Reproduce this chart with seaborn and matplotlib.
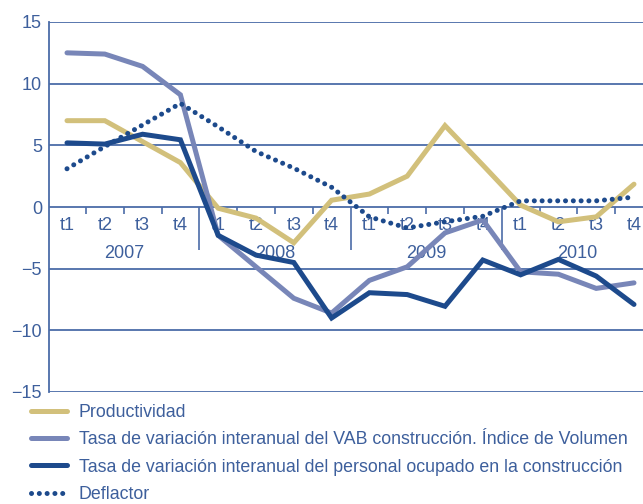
import numpy as np
import pandas as pd
import seaborn as sns
import matplotlib
matplotlib.use("Agg")
import matplotlib.pyplot as plt
from matplotlib.lines import Line2D

# ---- data ----
quarters = ["t1", "t2", "t3", "t4"]
years = ["2007", "2008", "2009", "2010"]
productividad = [7.0, 7.0, 5.3, 3.6, -0.1, -0.9, -2.9, 0.55, 1.05, 2.5, 6.6, 3.4, 0.15, -1.2, -0.8, 1.85]
vab = [12.5, 12.4, 11.4, 9.1, -2.3, -4.85, -7.4, -8.6, -5.95, -4.85, -2.1, -1.05, -5.25, -5.45, -6.6, -6.15]
personal = [5.2, 5.1, 5.9, 5.45, -2.3, -3.9, -4.5, -9.0, -6.95, -7.1, -8.05, -4.3, -5.5, -4.25, -5.6, -7.9]
deflactor = [3.1, 4.9, 6.65, 8.4, 6.5, 4.5, 3.15, 1.6, -0.8, -1.7, -1.2, -0.75, 0.5, 0.5, 0.5, 0.8]
labels = ["Productividad",
          "Tasa de variación interanual del VAB construcción. Índice de Volumen",
          "Tasa de variación interanual del personal ocupado en la construcción",
          "Deflactor"]

c_tan = "#D2C07B"
c_lav = "#7886B8"
c_navy = "#1D4A8C"
c_text = "#3D5F9C"
c_grid = "#4B6CA8"

sns.set_theme(style="white")
plt.rcParams["font.family"] = ["Liberation Sans", "DejaVu Sans"]

fig = plt.figure(figsize=(6.43, 5.04), dpi=100)
ax = fig.add_axes([49/643, 1-392/504, 1-49/643, 370/504])

x = np.arange(len(productividad))
lw = 3.6
dot_style = (0, (0.01, 1.55))

sns.lineplot(x=x, y=productividad, ax=ax, color=c_tan, linewidth=lw, solid_capstyle="round", solid_joinstyle="miter")
sns.lineplot(x=x, y=vab, ax=ax, color=c_lav, linewidth=lw, solid_capstyle="round", solid_joinstyle="miter")
sns.lineplot(x=x, y=personal, ax=ax, color=c_navy, linewidth=lw, solid_capstyle="round", solid_joinstyle="miter")
sns.lineplot(x=x, y=deflactor, ax=ax, color=c_navy, linewidth=lw, linestyle=dot_style, dash_capstyle="round")

ax.set_ylim(-15, 15)
ax.set_xlim(-18/37.8, (643-67)/37.8)
ax.set_yticks([-15, -10, -5, 0, 5, 10, 15])
ax.set_yticklabels(["−15", "−10", "−5", "0", "5", "10", "15"])
ax.set_xticks([])
ax.tick_params(axis="y", colors=c_grid, labelcolor=c_text, labelsize=13, length=3, width=1.2, direction="out", pad=2)
for yv in [-15, -10, -5, 0, 5, 10, 15]:
    ax.axhline(yv, color=c_grid, linewidth=1.3, zorder=0.5)
for s in ["top", "right", "bottom"]:
    ax.spines[s].set_visible(False)
ax.spines["left"].set_color(c_grid)
ax.spines["left"].set_linewidth(1.3)
ax.set_xlabel("")
ax.set_ylabel("")

upx = 30/370  # data units per pixel
# quarter labels and ticks
for i in range(16):
    ax.annotate(quarters[i % 4], xy=(i, 0), xytext=(0, -19), textcoords="offset pixels",
                ha="center", va="center", color=c_text, fontsize=13, zorder=1)
for yi in range(4):
    for q in range(3):
        xm = yi*4 + q + 0.5
        ax.vlines(xm, -7*upx, 0, color=c_grid, linewidth=1.2, zorder=0.6)
    if yi < 3:
        ax.vlines(yi*4 + 3.5, -43*upx, 0, color=c_grid, linewidth=1.2, zorder=0.6)
    ax.annotate(years[yi], xy=(yi*4 + 1.5, 0), xytext=(0, -46), textcoords="offset pixels",
                ha="center", va="center", color=c_text, fontsize=13, zorder=1)

handles = [Line2D([], [], color=c_tan, linewidth=lw, solid_capstyle="round"),
           Line2D([], [], color=c_lav, linewidth=lw, solid_capstyle="round"),
           Line2D([], [], color=c_navy, linewidth=lw, solid_capstyle="round"),
           Line2D([], [], color=c_navy, linewidth=lw, linestyle=dot_style, dash_capstyle="round")]
leg = fig.legend(handles, labels, loc="upper left", bbox_to_anchor=(31/643, 1-404/504),
                 frameon=False, fontsize=12.8, handlelength=2.05, handletextpad=0.65,
                 labelspacing=0.58, borderpad=0, borderaxespad=0)
for t in leg.get_texts():
    t.set_color(c_text)

fig.savefig("out.png", dpi=100)
